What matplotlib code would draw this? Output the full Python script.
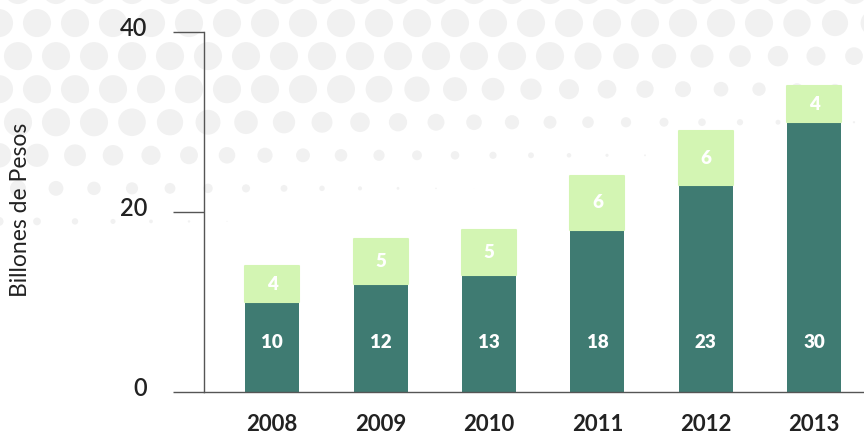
import numpy as np
import matplotlib.pyplot as plt
from matplotlib.transforms import offset_copy

# Billones de pesos por año
years = ["2008", "2009", "2010", "2011", "2012", "2013"]
base = [10, 12, 13, 18, 23, 30]
extra = [4, 5, 5, 6, 6, 4]

dark = "#3f7b72"
light = "#d3f5b3"
ink = "#222222"

plt.rcParams["font.family"] = ["Lato", "DejaVu Sans"]

fig = plt.figure(figsize=(8.64, 4.34), dpi=100)

# faint dotted backdrop, thinning towards the bottom
bg = fig.add_axes([0, 0, 1, 1], zorder=-1)
bg.set_xlim(0, 864)
bg.set_ylim(434, 0)
bg.axis("off")
step = 38
xs, ys, ss = [], [], []
for row, yy in enumerate(np.arange(-10, 300, step * 0.87)):
    off = (row % 2) * step / 2
    for xx in np.arange(-20 + off, 900, step):
        f = np.clip((260 - yy - 0.15 * xx) / 120, 0, 1)
        if f > 0:
            xs.append(xx)
            ys.append(yy)
            ss.append((28 * f) ** 2 * 0.52)
bg.scatter(xs, ys, s=ss, color="#f1f1f1", edgecolors="none")

ax = fig.add_axes([204 / 864, 42 / 434, 1 - 204 / 864, 360 / 434])
ax.patch.set_alpha(0)
x = np.arange(len(years))
ax.bar(x, base, width=0.5, color=dark, zorder=2)
ax.bar(x, extra, bottom=base, width=0.5, color=light, zorder=2,
       edgecolor=light, linewidth=1.5, joinstyle="round")

for xi, b, e in zip(x, base, extra):
    ax.text(xi, 5.5, str(b), ha="center", va="center", color="white",
            fontsize=13.5, fontweight="heavy", zorder=3)
    ax.text(xi, b + e / 2, str(e), ha="center", va="center", color="white",
            fontsize=13.5, fontweight="heavy", zorder=3)

ax.set_xlim(-0.63, 5.46)
ax.set_ylim(0, 40)
ax.set_yticks([0, 20, 40])
ax.set_xticks(x)
ax.set_xticklabels(years)
for s in ("top", "right"):
    ax.spines[s].set_visible(False)
ax.spines["left"].set_color("#555555")
ax.spines["bottom"].set_color("#555555")
ax.spines["left"].set_linewidth(1.0)
ax.spines["bottom"].set_linewidth(1.0)
ax.tick_params(axis="y", length=22, width=1.0, color="#555555", pad=19,
               labelsize=17, labelcolor=ink)
ax.tick_params(axis="x", length=0, pad=16, labelsize=16, labelcolor=ink)
for lab in ax.get_xticklabels():
    lab.set_fontweight("bold")
for lab in ax.get_yticklabels():
    lab.set_fontweight("semibold")
    lab.set_transform(offset_copy(lab.get_transform(), fig=fig, y=6, units="dots"))
ax.set_ylabel("Billones de Pesos", fontsize=16.5, color=ink, va="center")
ax.yaxis.set_label_coords((21 - 204) / 660, (392 - 210) / 360)

fig.savefig("out.png", dpi=100)
